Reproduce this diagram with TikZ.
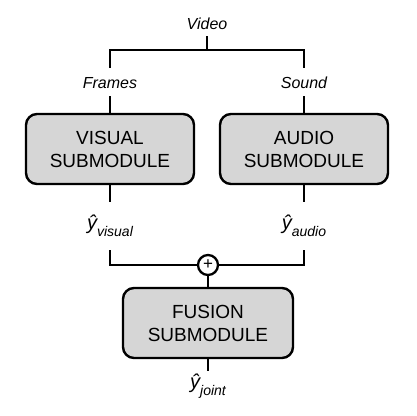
\documentclass[tikz,border=0pt]{standalone}
\usepackage{fontspec}
\setmainfont{Liberation Sans}
\usetikzlibrary{positioning,shapes,arrows}
\newcommand{\yhat}[1]{{\itshape\fontsize{20}{20}\selectfont ŷ}\raisebox{-7pt}{\itshape\fontsize{14}{14}\selectfont #1}}

\begin{document}
\begin{tikzpicture}[x=1pt,y=-1pt]
\tikzstyle{every node}+=[inner sep=0pt]
\tikzstyle{module}=[draw=black, line width=2.4pt, fill=black!16, rounded corners=11pt, minimum width=168pt, minimum height=70pt, align=center, font=\fontsize{19}{23}\selectfont]
\tikzstyle{sig}=[font=\itshape\fontsize{16}{16}\selectfont, text height=12pt, text depth=0pt, inner ysep=8pt]
\tikzstyle{wire}=[draw=black, line width=2.3pt]
\useasboundingbox (0,0) rectangle (416,416);
\node [sig, inner ysep=7pt] (video) at (207,23) {Video};
\node [sig] (frames) at (110,82) {Frames};
\node [sig] (sound) at (304,82) {Sound};
\node [module] (visual) at (110,149) {VISUAL\\SUBMODULE};
\node [module] (audio) at (304,149) {AUDIO\\SUBMODULE};
\node [minimum height=48pt] (yvis) at (110,226) {\yhat{visual}};
\node [minimum height=48pt] (yaud) at (304,226) {\yhat{audio}};
\node [circle, draw=black, line width=2.3pt, fill=white, minimum size=20pt, font=\fontsize{17}{17}\selectfont] (plus) at (208,265) {+};
\node [module, minimum width=170pt] (fusion) at (208,323) {FUSION\\SUBMODULE};
\node [minimum height=30pt] (yjoint) at (208,386) {\yhat{joint}};
\coordinate (split) at (207,50);
% video splits into frames and sound
\draw [wire] (video.south) -- (split);
\draw [wire] (frames.north) |- (split) -| (sound.north);
\draw [wire] (frames.south) -- (visual.north);
\draw [wire] (sound.south) -- (audio.north);
\draw [wire] (visual.south) -- (yvis.north);
\draw [wire] (audio.south) -- (yaud.north);
% both estimates meet at the sum
\draw [wire] (yvis.south) |- (plus.west);
\draw [wire] (yaud.south) |- (plus.east);
\draw [wire] (plus.south) -- (fusion.north);
\draw [wire] (fusion.south) -- (yjoint.north);
\end{tikzpicture}
\end{document}
